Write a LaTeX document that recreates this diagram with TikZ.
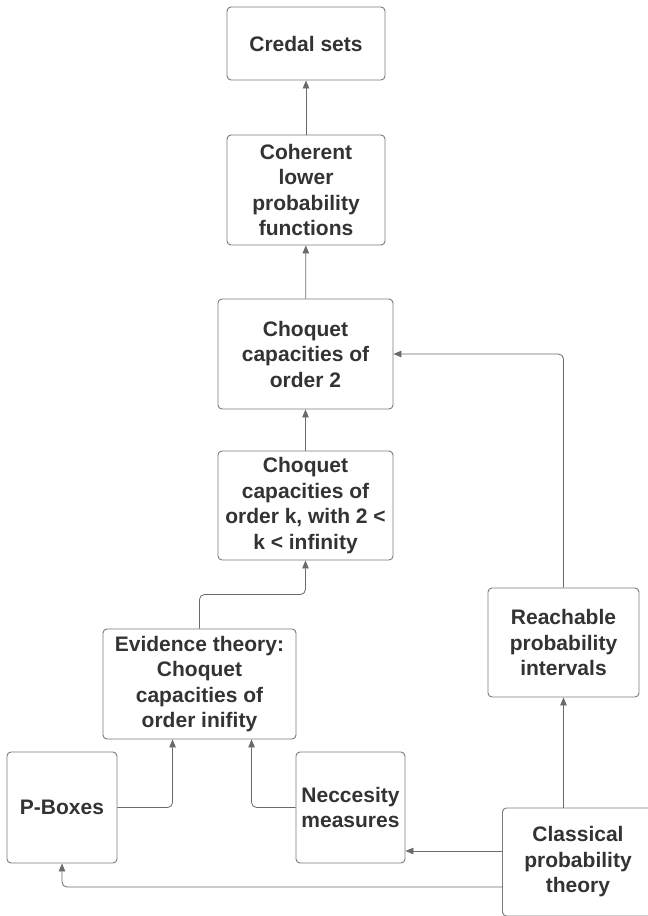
\documentclass[tikz,border=0pt]{standalone}
\usepackage{fontspec}
\setmainfont{Liberation Sans}
\usetikzlibrary{arrows.meta,calc}
\definecolor{txt}{HTML}{333333}
\definecolor{bord}{HTML}{7A7A7A}
\definecolor{conn}{HTML}{6A6A6A}
\tikzset{
  box/.style={draw=bord, line width=0.9pt, rounded corners=4pt, fill=white,
    text=txt, align=center, inner sep=0pt,
    font=\fontsize{21}{25.5}\selectfont\bfseries},
  arr/.style={draw=conn, line width=0.8pt, rounded corners=5pt,
    -{Triangle[length=8pt,width=6.5pt]}},
}
\begin{document}
\begin{tikzpicture}[x=1pt,y=-1pt]
\clip (0,0) rectangle (648,916);
\fill[white] (0,0) rectangle (648,916);
\node[box, minimum width=158, minimum height=73] (credal) at (306,43.5) {Credal sets};
\node[box, minimum width=158, minimum height=110] (coherent) at (306,190) {Coherent\\lower\\probability\\functions};
\node[box, minimum width=175, minimum height=110] (order2) at (305.5,354) {Choquet\\capacities of\\order 2};
\node[box, minimum width=175, minimum height=109] (orderk) at (305.5,505.5) {Choquet\\capacities of\\order k, with 2 <\\k < infinity};
\node[box, minimum width=193, minimum height=110] (evid) at (199.5,684) {Evidence theory:\\Choquet\\capacities of\\order inifity};
\node[box, minimum width=110, minimum height=111] (pbox) at (62,807.5) {P-Boxes};
\node[box, minimum width=109, minimum height=111] (necc) at (350.5,807.5) {Neccesity\\measures};
\node[box, minimum width=151, minimum height=109] (reach) at (563.5,642.5) {Reachable\\probability\\intervals};
\node[box, minimum width=151, minimum height=108] (classical) at (578,862) {Classical\\probability\\theory};
\coordinate (ekink) at ($(orderk.south)+(0,34)$);
\coordinate (pin) at ($(evid.south west)+(70,0)$);
\coordinate (nin) at ($(evid.south west)+(149,0)$);
\coordinate (c1) at ($(classical.west)+(0,-11)$);
\coordinate (c2) at ($(classical.west)+(0,25)$);
\draw[arr] (coherent) -- (credal);
\draw[arr] (order2) -- (coherent);
\draw[arr] (orderk) -- (order2);
\draw[arr] (evid.north) |- (ekink) -- (orderk.south);
\draw[arr] (pbox.east) -| (pin);
\draw[arr] (necc.west) -| (nin);
\draw[arr] (c1) -- (necc.east |- c1);
\draw[arr] (c2) -| (pbox.south);
\draw[arr] (reach.south |- classical.north) -- (reach.south);
\draw[arr] (reach.north) |- (order2.east);
\end{tikzpicture}
\end{document}
